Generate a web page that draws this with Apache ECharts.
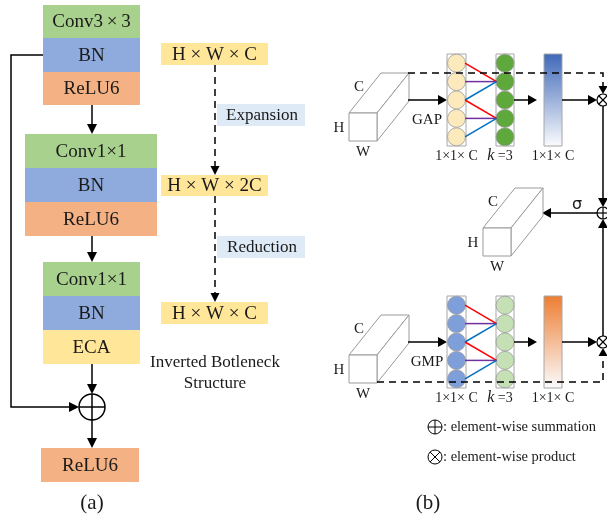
<!DOCTYPE html>
<html><head><meta charset="utf-8">
<script src="https://cdn.jsdelivr.net/npm/echarts@6/dist/echarts.min.js"></script>
<style>html,body{margin:0;padding:0;background:#fff}#c{width:607px;height:518px}</style>
</head><body><div id="c"></div>
<script>
// ---------- content ----------
const block1Labels = ['Conv3\u2009×\u20093', 'BN', 'ReLU6'];
const block2Labels = ['Conv1×1', 'BN', 'ReLU6'];
const block3Labels = ['Conv1×1', 'BN', 'ECA'];
const outputLabel = 'ReLU6';
const shapeLabels = ['H × W × C', 'H × W × 2C', 'H × W × C'];
const stageLabels = ['Expansion', 'Reduction'];
const structureLabels = ['Inverted Botleneck', 'Structure'];
const poolLabels = ['GAP', 'GMP'];
const dimLabels = ['1×1× C', 'k', ' =3', '1×1× C'];
const legendLabels = [': element-wise summation', ': element-wise product'];
const panelLabels = ['(a)', '(b)'];
const cubeLabels = ['C', 'H', 'W'];
const sigmaLabel = 'σ';
const kernelLinks = [[0, 1, 'red'], [1, 1, 'purple'], [2, 1, 'blue'], [2, 3, 'red'], [3, 3, 'purple'], [4, 3, 'blue']];
const channelCount = 5;

// ---------- styles ----------
const COL = {
  Conv: '#A9D18E', BN: '#8FAADC', ReLU6: '#F4B183', ECA: '#FFE699',
  shape: '#FFE699', stage: '#DEEBF7',
  red: '#FF0000', purple: '#7030A0', blue: '#0070C0',
  gapIn: '#FCE9BC', gapOut: '#5EA83C', gmpIn: '#7F9FDB', gmpOut: '#C5E0B4'
};
const SERIF = '"Liberation Serif", "Times New Roman", serif';
const INK = '#1a1a1a';

function layerColor(l) {
  if (l.indexOf('Conv') === 0) return COL.Conv;
  return COL[l] || '#fff';
}

function renderItem(params, api) {
  const P = (x, y) => api.coord([x, y]);
  const kids = [];
  const rect = (x0, y0, x1, y1, fill, stroke, lw) => {
    const a = P(x0, y0), b = P(x1, y1);
    kids.push({type: 'rect', shape: {x: a[0], y: a[1], width: b[0] - a[0], height: b[1] - a[1]},
      style: {fill: fill, stroke: stroke || null, lineWidth: lw || 1}});
  };
  const text = (x, y, t, size, opt) => {
    const p = P(x, y);
    opt = opt || {};
    kids.push({type: 'text', style: Object.assign({x: p[0], y: p[1], text: t,
      font: (opt.style || '') + ' ' + size + 'px ' + (opt.family || SERIF), fill: INK,
      align: opt.align || 'center', verticalAlign: 'middle'}, opt.extra || {})});
  };
  const poly = (pts, style, closed) => {
    kids.push({type: closed ? 'polygon' : 'polyline', shape: {points: pts.map(q => P(q[0], q[1]))}, style: style});
  };
  const line = (pts, color, lw, dash) => poly(pts, {stroke: color || '#000', lineWidth: lw || 1.5, fill: null, lineDash: dash || null}, false);
  const head = (x0, y0, x1, y1, L, W) => {
    L = L || 9; W = W || 4.5;
    const dx = x1 - x0, dy = y1 - y0, d = Math.hypot(dx, dy), ux = dx / d, uy = dy / d;
    const bx = x1 - ux * L, by = y1 - uy * L;
    poly([[x1, y1], [bx - uy * W, by + ux * W], [bx + uy * W, by - ux * W]], {fill: '#000'}, true);
  };
  const arrow = (pts, dash, L, W) => {
    const n = pts.length;
    const a = pts[n - 2], b = pts[n - 1];
    const dx = b[0] - a[0], dy = b[1] - a[1], d = Math.hypot(dx, dy);
    const end = [b[0] - dx / d * 6, b[1] - dy / d * 6];
    line(pts.slice(0, n - 1).concat([end]), '#000', 1.5, dash ? [7, 5] : null);
    head(a[0], a[1], b[0], b[1], L, W);
  };
  const op = (cx, cy, r, times, lw) => {
    const c = P(cx, cy);
    kids.push({type: 'circle', shape: {cx: c[0], cy: c[1], r: r}, style: {fill: '#fff', stroke: '#000', lineWidth: lw || 1.5}});
    if (times) {
      const k = r * 0.7071;
      line([[cx - k, cy - k], [cx + k, cy + k]], '#000', lw || 1.5);
      line([[cx - k, cy + k], [cx + k, cy - k]], '#000', lw || 1.5);
    } else {
      line([[cx - r, cy], [cx + r, cy]], '#000', lw || 1.5);
      line([[cx, cy - r], [cx, cy + r]], '#000', lw || 1.5);
    }
  };
  const cube = (fx, fy) => {
    const s = 28, dx = 32, dy = -40;
    const st = {fill: '#fff', stroke: '#9a9a9a', lineWidth: 1};
    poly([[fx, fy], [fx + dx, fy + dy], [fx + dx + s, fy + dy], [fx + s, fy]], st, true);
    poly([[fx + s, fy], [fx + s + dx, fy + dy], [fx + s + dx, fy + dy + s], [fx + s, fy + s]], st, true);
    poly([[fx, fy], [fx + s, fy], [fx + s, fy + s], [fx, fy + s]], st, true);
    text(fx + 10, fy - 26, cubeLabels[0], 15);
    text(fx - 10, fy + 15, cubeLabels[1], 15);
    text(fx + 14, fy + 39, cubeLabels[2], 15);
  };

  // ===== panel (a) =====
  const block = (labels, x0, x1, ys) => {
    labels.forEach((l, i) => {
      rect(x0, ys[i], x1, ys[i + 1], layerColor(l));
      text((x0 + x1) / 2, (ys[i] + ys[i + 1]) / 2 + 1, l, 19);
    });
  };
  block(block1Labels, 43, 140, [5, 38, 72, 105]);
  block(block2Labels, 25, 157, [134, 168, 202, 236]);
  block(block3Labels, 43, 140, [262, 296, 330, 364]);
  rect(41, 448, 139, 482, COL.ReLU6);
  text(90, 466, outputLabel, 19);

  arrow([[92, 105], [92, 134]], false, 10, 5);
  arrow([[92, 236], [92, 262]], false, 10, 5);
  arrow([[92, 364], [92, 394]], false, 10, 5);
  arrow([[92, 420], [92, 448]], false, 10, 5);
  arrow([[43, 55], [11, 55], [11, 407], [79, 407]], false, 10, 5);
  op(92, 407, 13, false, 1.5);
  text(92, 503, panelLabels[0], 21);

  const shapeYs = [[43, 65], [175, 196], [302, 324]];
  shapeYs.forEach((yy, i) => {
    rect(161, yy[0], 268, yy[1], COL.shape);
    text(214.5, (yy[0] + yy[1]) / 2 + 1, shapeLabels[i], 19);
  });
  arrow([[215, 65], [215, 175]], true, 9, 4.5);
  arrow([[215, 196], [215, 302]], true, 9, 4.5);
  [[104, 126], [236, 258]].forEach((yy, i) => {
    rect(217, yy[0], 305, yy[1], COL.stage);
    text(262, (yy[0] + yy[1]) / 2 + 1, stageLabels[i], 17);
  });
  text(215, 363, structureLabels[0], 17);
  text(215, 384, structureLabels[1], 17);

  // ===== panel (b) =====
  const branch = (fy, cy, inCol, outCol, barTop, pool, dashY, dashUp) => {
    cube(349, fy);
    text(427, cy + 20, pool, 15);
    arrow([[408, cy], [447, cy]], false, 9, 5);
    const top = cy - 46, bot = cy + 46;
    rect(447, top, 466, bot, '#fff', '#a6a6a6', 1);
    rect(496, top, 514, bot, '#fff', '#a6a6a6', 1);
    const cys = [];
    for (let i = 0; i < channelCount; i++) cys.push(top + 9.2 + i * 18.4);
    cys.forEach(y => {
      const a = P(456.5, y), b = P(505, y);
      kids.push({type: 'circle', shape: {cx: a[0], cy: a[1], r: 9}, style: {fill: inCol, stroke: '#9a9a9a', lineWidth: 0.8}});
      kids.push({type: 'circle', shape: {cx: b[0], cy: b[1], r: 9}, style: {fill: outCol, stroke: '#9a9a9a', lineWidth: 0.8}});
    });
    kernelLinks.forEach(k => line([[465, cys[k[0]]], [496.5, cys[k[1]]]], COL[k[2]], 1.5));
    arrow([[514, cy], [537, cy]], false, 9, 5);
    const a = P(544, top), b = P(562, bot);
    kids.push({type: 'rect', shape: {x: a[0], y: a[1], width: b[0] - a[0], height: b[1] - a[1]},
      style: {fill: {type: 'linear', x: 0, y: 0, x2: 0, y2: 1, colorStops: [{offset: 0, color: barTop}, {offset: 1, color: '#fbfcfe'}]},
        stroke: '#a6a6a6', lineWidth: 1}});
    arrow([[562, cy], [597, cy]], false, 9, 5);
    text(456.5, bot + 10, dimLabels[0], 14);
    kids.push({type: 'text', style: {x: P(500, bot + 10)[0], y: P(500, bot + 10)[1], text: '{i|' + dimLabels[1] + '}{n|' + dimLabels[2] + '}',
      align: 'center', verticalAlign: 'middle', rich: {i: {font: 'italic 16px ' + SERIF, fill: INK}, n: {font: '14px ' + SERIF, fill: INK}}}});
    text(553, bot + 10, dimLabels[3], 14);
    // dashed shortcut
    line(dashY, '#000', 1.5, [7, 5]);
    head(603, dashUp[0], 603, dashUp[1], 8, 4.5);
  };
  branch(113, 100, COL.gapIn, COL.gapOut, '#3F68B8', poolLabels[0], [[408, 73], [603, 73], [603, 86]], [85, 94]);
  branch(355, 342, COL.gmpIn, COL.gmpOut, '#ED7D31', poolLabels[1], [[377, 382], [603, 382], [603, 356]], [357, 348]);

  arrow([[603, 106], [603, 207]], false, 9, 5);
  arrow([[603, 336], [603, 219]], false, 9, 5);
  arrow([[597, 213], [542, 213]], false, 9, 5);
  text(577, 205, sigmaLabel, 16, {family: '"DejaVu Sans", sans-serif'});
  cube(483, 228);
  op(603, 100, 6, true, 1.2);
  op(603, 342, 6, true, 1.2);
  op(603, 213, 6, false, 1.2);

  op(435, 427, 7, false, 1);
  op(435, 457, 7, true, 1);
  text(443, 427, legendLabels[0], 14.5, {align: 'left'});
  text(443, 457, legendLabels[1], 14.5, {align: 'left'});
  text(428, 503, panelLabels[1], 21);

  return {type: 'group', children: kids};
}

const chart = echarts.init(document.getElementById('c'), null, {renderer: 'canvas'});
chart.setOption({
  animation: false,
  backgroundColor: '#fff',
  grid: {left: 0, right: 0, top: 0, bottom: 0},
  xAxis: {type: 'value', min: 0, max: 607, show: false},
  yAxis: {type: 'value', min: 0, max: 518, inverse: true, show: false},
  series: [{type: 'custom', data: [[0, 0]], renderItem: renderItem, clip: false, silent: true}]
});
</script></body></html>
